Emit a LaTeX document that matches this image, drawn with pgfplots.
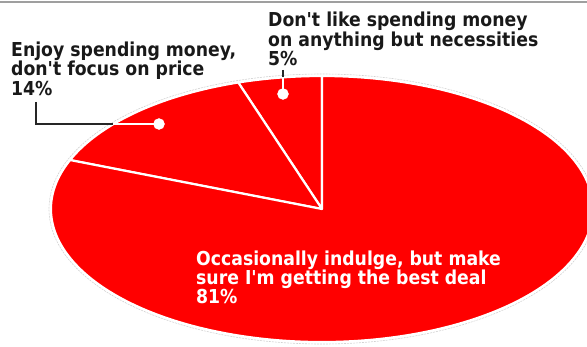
\documentclass[border=0pt]{standalone}
\usepackage{pgfplots}
\pgfplotsset{compat=1.18}
\usepackage{pgfplotstable}
\usepackage{fontspec}
\setmainfont{DejaVu Sans Condensed}
\pgfplotstableread{
share label
5 necessities
14 enjoy
81 deal
}\pietable
\definecolor{piered}{HTML}{FF0000}
\newcommand{\lab}{\bfseries\fontsize{19.2}{19}\selectfont}
\begin{document}
\begin{tikzpicture}
\pgfplotstablegetelem{0}{share}\of\pietable \pgfmathsetmacro{\sa}{\pgfplotsretval}
\pgfplotstablegetelem{1}{share}\of\pietable \pgfmathsetmacro{\sb}{\pgfplotsretval}
\pgfplotstablegetelem{2}{share}\of\pietable \pgfmathsetmacro{\sc}{\pgfplotsretval}
\pgfmathsetmacro{\aA}{90}
\pgfmathsetmacro{\aB}{\aA+3.6*\sa}
\pgfmathsetmacro{\aC}{\aB+3.6*\sb}
\pgfmathsetmacro{\aD}{\aC+3.6*\sc}
\begin{axis}[scale only axis, width=587pt, height=346pt,
  xmin=0, xmax=587, ymin=0, ymax=346, hide axis, clip=false]
% top rule
\addplot[gray!75, line width=2pt] coordinates {(0,344) (587,344)};
% halo
\draw[gray!35, line width=0.6pt, dash pattern=on 2pt off 1pt] (axis cs:322,137) ellipse [x radius=273, y radius=135];
% slices
\filldraw[fill=piered, draw=white, line width=2.2pt, line join=round]
  (axis cs:322,137) -- (axis cs:{322+271*cos(\aA)},{137+133*sin(\aA)})
  arc [start angle=\aA, end angle=\aB, x radius=271, y radius=133] -- cycle;
\filldraw[fill=piered, draw=white, line width=2.2pt, line join=round]
  (axis cs:322,137) -- (axis cs:{322+271*cos(\aB)},{137+133*sin(\aB)})
  arc [start angle=\aB, end angle=\aC, x radius=271, y radius=133] -- cycle;
\filldraw[fill=piered, draw=white, line width=2.2pt, line join=round]
  (axis cs:322,137) -- (axis cs:{322+271*cos(\aC)},{137+133*sin(\aC)})
  arc [start angle=\aC, end angle=\aD, x radius=271, y radius=133] -- cycle;
% leaders
\addplot[black!85, line width=1.5pt] coordinates {(36,244) (36,222) (113,222)};
\addplot[white, line width=1.5pt] coordinates {(113,222) (159,222)};
\addplot[only marks, mark=*, mark size=5.5pt, white] coordinates {(159,222)};
\addplot[black!85, line width=1.5pt] coordinates {(283,276) (283,269)};
\addplot[white, line width=1.5pt] coordinates {(283,269) (283,252)};
\addplot[only marks, mark=*, mark size=5.5pt, white] coordinates {(283,252)};
% labels
\node[anchor=base west, font=\lab, text=black!90, inner sep=0pt] at (axis cs:268,319) {Don\textquotesingle t like spending money};
\node[anchor=base west, font=\lab, text=black!90, inner sep=0pt] at (axis cs:268,299.5) {on anything but necessities};
\node[anchor=base west, font=\lab, text=black!90, inner sep=0pt] at (axis cs:268,280) {5\%};
\node[anchor=base west, font=\lab, text=black!90, inner sep=0pt] at (axis cs:11,289.5) {Enjoy spending money,};
\node[anchor=base west, font=\lab, text=black!90, inner sep=0pt] at (axis cs:11,270.5) {don\textquotesingle t focus on price};
\node[anchor=base west, font=\lab, text=black!90, inner sep=0pt] at (axis cs:11,251) {14\%};
\node[anchor=base west, font=\lab, text=white, inner sep=0pt] at (axis cs:196,81) {Occasionally indulge, but make};
\node[anchor=base west, font=\lab, text=white, inner sep=0pt] at (axis cs:196,62) {sure I\textquotesingle m getting the best deal};
\node[anchor=base west, font=\lab, text=white, inner sep=0pt] at (axis cs:196,43) {81\%};
\end{axis}
\pgfresetboundingbox
\path[use as bounding box] (current axis.south west) rectangle (current axis.north east);
\end{tikzpicture}
\end{document}
